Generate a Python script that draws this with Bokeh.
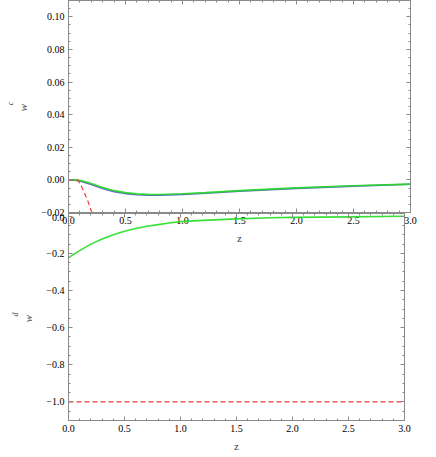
import numpy as np
from bokeh.plotting import figure
from bokeh.layouts import column
from bokeh.models import (LinearAxis, SingleIntervalTicker, CustomJSTickFormatter,
                          Label, Range1d)
from bokeh.embed import file_html
from bokeh.resources import INLINE

# ---------------- data ----------------
z_wc = [0.0, 0.05, 0.1, 0.15, 0.2, 0.3, 0.4, 0.5, 0.6, 0.7, 0.8, 1.0, 1.2, 1.5, 2.0, 2.5, 3.0]
wc_green = [0.0, 0.0, -0.0003, -0.0012, -0.0022, -0.0047, -0.0066, -0.0078, -0.0086,
            -0.0089, -0.0090, -0.0085, -0.0078, -0.0066, -0.0049, -0.0036, -0.0026]
wc_blue = [0.0, -0.0002, -0.0007, -0.0017, -0.0028, -0.0053, -0.0072, -0.0084, -0.0091,
           -0.0094, -0.0094, -0.0089, -0.0082, -0.0069, -0.0052, -0.0038, -0.0027]
z_wc_red = [0.0, 0.05, 0.08, 0.1, 0.134, 0.17, 0.2, 0.23, 0.26]
wc_red = [0.0, 0.0, 0.0, -0.002, -0.007, -0.013, -0.019, -0.024, -0.030]

z_wd = [0.0, 0.1, 0.2, 0.3, 0.4, 0.5, 0.6, 0.7, 0.8, 0.9, 1.0, 1.2, 1.5, 1.8, 2.0, 2.5, 3.0]
wd_green = [-0.223, -0.185, -0.150, -0.122, -0.099, -0.081, -0.066, -0.054, -0.045,
            -0.036, -0.029, -0.022, -0.014, -0.008, -0.006, -0.003, 0.0]
z_wd_red = [0.0, 3.0]
wd_red = [-1.0, -1.0]

x_major = 0.5
top_y_major = 0.02
bot_y_major = 0.2

FONT = "Liberation Serif"
GRAY = "#8a8a8a"
GREEN = "#22dd22"
BLUE = "#5555c0"
RED = "#ee3b3b"


def fmt(dec):
    return CustomJSTickFormatter(code=(
        "if (Math.abs(tick) < 1e-9) { tick = 0; }"
        "return tick.toFixed(%d).replace('-', '\u2212');" % dec))


def style_axis(ax, interval, minor, dec, labels=True):
    ax.ticker = SingleIntervalTicker(interval=interval, num_minor_ticks=minor)
    ax.axis_line_color = GRAY
    ax.major_tick_line_color = GRAY
    ax.minor_tick_line_color = GRAY
    ax.major_tick_in = 4
    ax.major_tick_out = 0
    ax.minor_tick_in = 2
    ax.minor_tick_out = 0
    ax.major_label_text_font = FONT
    ax.major_label_text_color = "black"
    ax.major_label_text_font_size = "10px"
    ax.axis_label_text_font = FONT
    ax.axis_label_text_font_style = "normal"
    ax.axis_label_text_font_size = "11px"
    if labels:
        ax.formatter = fmt(dec)
        ax.major_label_standoff = 4
    else:
        ax.formatter = CustomJSTickFormatter(code="return '';")
        ax.major_label_standoff = 0
        ax.axis_label = None


def make_frame(p, y_interval, y_minor, y_dec):
    p.xgrid.visible = False
    p.ygrid.visible = False
    p.outline_line_color = GRAY
    style_axis(p.xaxis[0], x_major, 5, 1)
    style_axis(p.yaxis[0], y_interval, y_minor, y_dec)
    p.xaxis[0].axis_label = "z"
    top = LinearAxis()
    right = LinearAxis()
    style_axis(top, x_major, 5, 1, labels=False)
    style_axis(right, y_interval, y_minor, y_dec, labels=False)
    p.add_layout(top, "above")
    p.add_layout(right, "right")


def add_ylabel(p, sx, sy, main, sub):
    p.add_layout(Label(x=sx, y=sy, x_units="screen", y_units="screen", text=main,
                       text_font=FONT, text_font_style="italic", text_font_size="11px",
                       angle=np.pi / 2, text_align="center", text_baseline="middle"), "left")
    p.add_layout(Label(x=sx - 3, y=sy + 4, x_units="screen", y_units="screen", text=sub,
                       text_font=FONT, text_font_style="italic", text_font_size="8px",
                       angle=np.pi / 2, text_align="center", text_baseline="middle"), "left")


p1 = figure(frame_width=342, frame_height=212,
            x_range=Range1d(0, 3), y_range=Range1d(-0.02, 0.11),
            output_backend="svg", toolbar_location=None,
            min_border_left=68, min_border_right=10, min_border_top=0,
            min_border_bottom=40)
make_frame(p1, top_y_major, 4, 2)
p1.xaxis[0].axis_label_standoff = 6

p1.line(z_wc, wc_blue, line_color=BLUE, line_width=1.6, line_alpha=0.9)
p1.line(z_wc, wc_green, line_color=GREEN, line_width=1.6, line_alpha=0.9)
p1.line(z_wc_red, wc_red, line_color=RED, line_width=1.2, line_dash="5 3")
add_ylabel(p1, -4, 105, "w", "c")

p2 = figure(frame_width=336, frame_height=207,
            x_range=Range1d(0, 3), y_range=Range1d(-1.1, 0.015),
            output_backend="svg", toolbar_location=None,
            min_border_left=68, min_border_right=16, min_border_top=0,
            min_border_bottom=44, margin=(-39, 0, -14, 0),
            background_fill_alpha=0, border_fill_alpha=0)
make_frame(p2, bot_y_major, 4, 1)
p2.xaxis[0].axis_label_standoff = 16

p2.line(z_wd, wd_green, line_color=GREEN, line_width=1.6, line_alpha=0.9)
p2.line(z_wd_red, wd_red, line_color=RED, line_width=1.2, line_dash="5 3")
add_ylabel(p2, -4, 102, "w", "d")

layout = column(p1, p2)
open("out.html", "w").write(file_html(layout, INLINE))
